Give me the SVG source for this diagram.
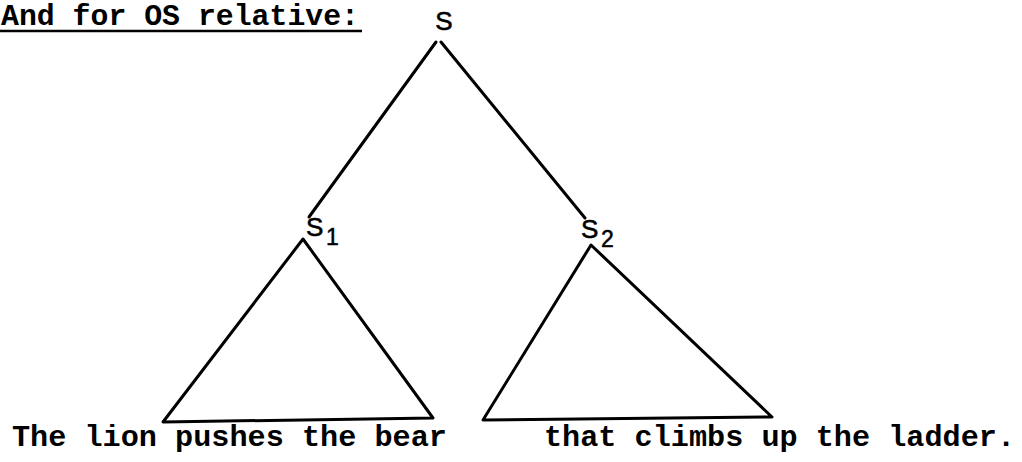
<svg xmlns="http://www.w3.org/2000/svg" width="1022" height="462" viewBox="0 0 1022 462">
<style>
.mono{font-family:"Liberation Mono","Courier New",monospace;font-weight:bold;font-size:30px;fill:#000}
.lab{font-family:"Liberation Sans",Arial,sans-serif;font-size:26px;fill:#000;stroke:#000;stroke-width:0.6}
.sub{font-family:"Liberation Sans",Arial,sans-serif;font-size:23px;fill:#000;stroke:#000;stroke-width:0.5}
.ln{stroke:#000;stroke-width:3;fill:none;stroke-linecap:round;stroke-linejoin:round}
</style>
<rect width="1022" height="462" fill="#fff"/>
<g id="title">
<text class="mono" x="1" y="25" textLength="358" lengthAdjust="spacingAndGlyphs">And for OS relative:</text>
<line x1="0" y1="31" x2="362" y2="31" stroke="#000" stroke-width="2.5"/>
</g>
<g id="connectors">
<line class="ln" x1="436" y1="42" x2="309" y2="217"/>
<line class="ln" x1="441" y1="42" x2="585" y2="218"/>
</g>
<g id="node-S">
<text class="lab" x="444" y="30" text-anchor="middle" font-size="24">S</text>
</g>
<g id="node-S1">
<text class="lab" x="306" y="236">S</text>
<text class="sub" x="326" y="245">1</text>
<path class="ln" d="M163,422 L303,239 L433,418 Z"/>
</g>
<g id="node-S2">
<text class="lab" x="581" y="238">S</text>
<text class="sub" x="601" y="247">2</text>
<path class="ln" d="M483,420 L591,245 L772,417 Z"/>
</g>
<g id="sentence">
<text class="mono" x="12" y="446" textLength="435" lengthAdjust="spacingAndGlyphs">The lion pushes the bear</text>
<text class="mono" x="544" y="446" textLength="471" lengthAdjust="spacingAndGlyphs">that climbs up the ladder.</text>
</g>
</svg>
